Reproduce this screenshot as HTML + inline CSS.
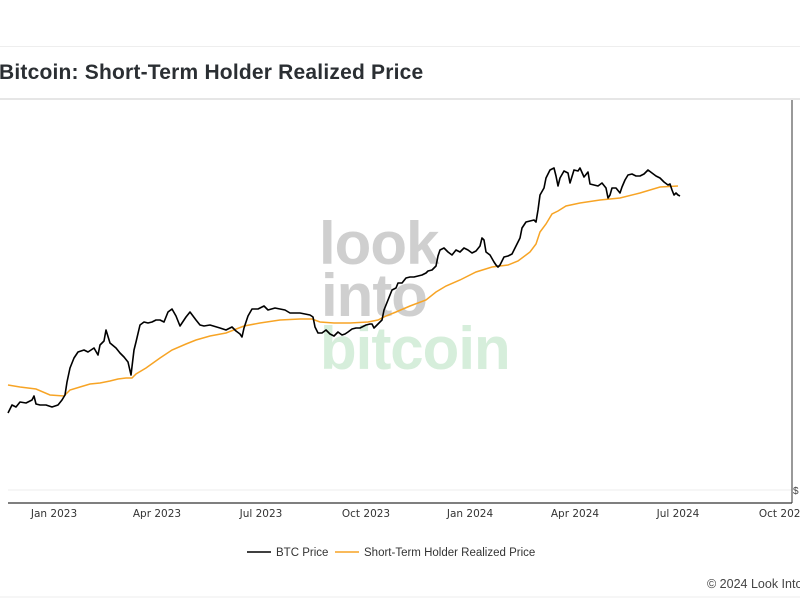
<!DOCTYPE html>
<html><head><style>
body{margin:0;width:800px;height:600px;background:#fff;overflow:hidden;font-family:"Liberation Sans",sans-serif;position:relative}
.t{position:absolute;left:-1px;top:61px;font-size:21px;font-weight:bold;color:#2b2f33;letter-spacing:0.2px}
.wm{position:absolute;font-weight:bold;font-size:60px;line-height:52px;letter-spacing:-1px}
</style></head><body>
<div style="position:absolute;left:0;right:0;top:46px;border-top:1px solid #eee"></div>
<div class="t">Bitcoin: Short-Term Holder Realized Price</div>
<div style="position:absolute;left:0;right:0;top:98px;border-top:2px solid #e6e6e6"></div>
<div class="wm" style="left:319px;top:218px;color:#cfcfcf">look</div>
<div class="wm" style="left:321px;top:270px;color:#cfcfcf">into</div>
<div class="wm" style="left:320px;top:323px;color:#d6eedb">bitcoin</div>
<svg width="800" height="600" style="position:absolute;left:0;top:0">
<line x1="8" y1="490" x2="792" y2="490" stroke="#eee" stroke-width="1"/>
<line x1="8" y1="503" x2="792" y2="503" stroke="#333" stroke-width="1.2"/>
<line x1="792" y1="100" x2="792" y2="503" stroke="#333" stroke-width="1"/>
<text x="793" y="494" font-size="10" fill="#444">$</text>
<g font-size="10.5" fill="#333" text-anchor="middle" font-family="DejaVu Sans">
<text x="54" y="517">Jan 2023</text><text x="157" y="517">Apr 2023</text><text x="261" y="517">Jul 2023</text><text x="366" y="517">Oct 2023</text><text x="470" y="517">Jan 2024</text><text x="575" y="517">Apr 2024</text><text x="678" y="517">Jul 2024</text><text x="783" y="517">Oct 2024</text>
</g>
<polyline fill="none" stroke="#f7a425" stroke-width="1.5" points="8,385 20,387 36,389 50,395 64,396 70,390 80,387 90,384 100,383 110,381 118,379 126,378 132,378 136,374 146,368 160,358 172,350 186,344 196,340 210,336 226,333 244,326 260,323 280,320 300,319 312,319 320,322 334,323 350,323 368,322 378,320 386,316 396,312 410,306 426,300 436,292 446,286 460,280 476,272 492,267 508,265 518,261 530,252 536,244 540,232 546,224 552,214 558,211 566,206 580,203 600,200 620,198 640,193 660,187 678,186"/>
<polyline fill="none" stroke="#000" stroke-width="1.6" stroke-linejoin="round" points="8,413 12,405 16,407 20,402 26,403 32,400 34,396 36,404 40,405 46,405 52,407 58,405 62,400 65,395 67,382 70,368 74,358 78,352 84,350 88,352 94,348 98,355 100,345 104,341 106,330 110,343 116,348 120,353 124,357 128,362 131,375 134,350 136,342 140,325 144,322 148,323 152,322 156,320 160,320 164,322 168,312 172,309 176,316 180,326 186,317 190,312 196,320 200,325 204,326 210,325 220,328 226,330 228,329 232,327 236,331 240,334 242,337 244,328 248,316 252,309 258,309 264,306 268,310 275,308 285,310 290,313 300,313 310,315 313,317 315,327 318,333 322,333 326,330 330,334 334,336 338,332 342,335 345,334 348,332 352,329 356,328 360,328 366,325 370,324 372,324 374,328 378,324 382,320 384,310 388,300 392,290 396,288 398,283 402,283 406,278 410,277 414,277 418,276 422,275 426,273 428,271 432,270 436,266 438,256 440,250 444,248 448,252 452,255 456,250 460,252 464,248 468,250 472,253 476,251 480,246 482,238 484,240 486,252 490,255 494,262 496,265 498,267 500,265 504,257 508,256 512,254 516,246 520,238 522,228 526,222 530,221 534,220 536,222 538,210 540,195 544,188 546,178 550,170 554,168 556,176 558,186 560,178 564,171 568,173 570,183 574,170 578,171 580,168 584,177 588,172 590,184 594,185 598,186 602,183 606,188 608,198 610,195 612,188 616,188 620,193 622,187 625,180 628,175 632,174 636,176 640,176 644,174 648,170 652,173 656,176 660,178 664,182 668,185 670,184 672,190 674,195 676,193 678,195 680,196"/>
<line x1="247" y1="552" x2="271" y2="552" stroke="#000" stroke-width="1.5"/>
<text x="276" y="556" font-size="11.5" fill="#333">BTC Price</text>
<line x1="335" y1="552" x2="359" y2="552" stroke="#f7a425" stroke-width="1.5"/>
<text x="364" y="556" font-size="11.5" fill="#333">Short-Term Holder Realized Price</text>
<text x="707" y="588" font-size="12.5" fill="#444">© 2024 Look Into Bitcoin</text>
<line x1="0" y1="597" x2="800" y2="597" stroke="#eee" stroke-width="1"/>
</svg>
</body></html>
